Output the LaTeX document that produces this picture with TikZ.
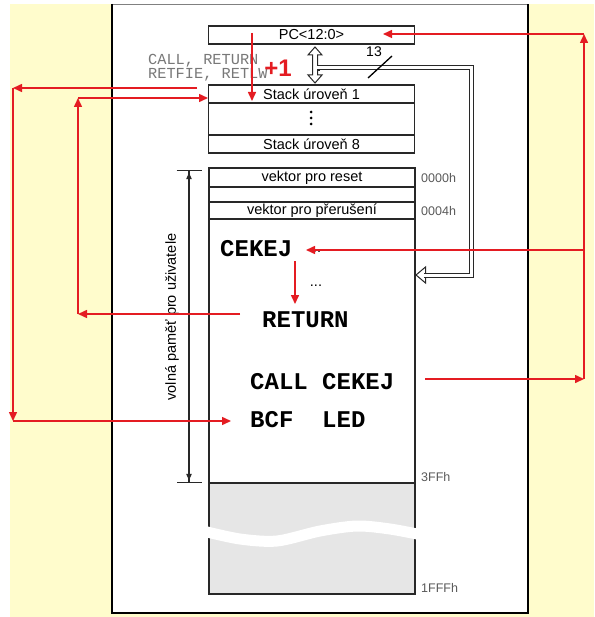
\documentclass[tikz,border=0pt]{standalone}
\usepackage{fontspec}
\setmainfont{Liberation Sans}
\newfontfamily\monof{Liberation Mono}
\usetikzlibrary{arrows.meta}
\definecolor{bgyellow}{RGB}{255,252,204}
\definecolor{myred}{RGB}{228,28,34}
\definecolor{extgray}{RGB}{230,230,230}
\definecolor{boxline}{RGB}{40,40,40}
\definecolor{labgray}{RGB}{90,90,90}
\definecolor{codegray}{RGB}{120,120,120}
\tikzset{
  membox/.style={draw=boxline, line width=1.3pt, fill=white, inner sep=0pt, font=\fontsize{14.5}{15}\selectfont},
  redarr/.style={draw=myred, line width=1.5pt, -{Triangle[length=9pt,width=8pt]}},
  codetxt/.style={font=\monof\bfseries\fontsize{24}{24}\selectfont, anchor=west, inner sep=0pt},
  graycode/.style={font=\monof\fontsize{15.3}{15}\selectfont, text=codegray, anchor=west, inner sep=0pt},
  addr/.style={font=\fontsize{12.5}{13}\selectfont, text=labgray, anchor=west, inner sep=0pt},
  hollow/.style={draw=boxline, line width=1pt, fill=white, line join=miter},
  dbl/.style={draw=boxline, line width=1pt, double=white, double distance=3pt}
}
\begin{document}
\begin{tikzpicture}[x=1pt,y=-1pt]
\useasboundingbox (0,0) rectangle (594,617);
\fill[white] (0,0) rectangle (594,617);
\fill[bgyellow] (10,4) rectangle (594,617);
\fill[white] (112,4) rectangle (528,613);
\draw[gray, line width=0.8pt] (112,4) -- (528,4);
\draw[black, line width=1.8pt] (112,4) -- (112,613) -- (528,613) -- (528,4);

% PC and stack
\node[membox, minimum width=206pt, minimum height=18pt] (pc) at (311.5,35) {PC<12:0>};
\node[membox, minimum width=206pt, minimum height=32pt] (stackmid) at (311.5,119) {};
\node[membox, minimum width=206pt, minimum height=18pt] (stack1) at (311.5,94) {Stack úroveň 1};
\node[membox, minimum width=206pt, minimum height=18pt] (stack8) at (311.5,144) {Stack úroveň 8};
\fill[black] (311,112) circle (1.5pt) (311,118) circle (1.5pt) (311,124) circle (1.5pt);

% memory map
\node[membox, minimum width=206pt, minimum height=264pt] (user) at (312,351) {};
\node[membox, minimum width=206pt, minimum height=111pt, fill=extgray] (ext) at (312,538.5) {};
\node[membox, minimum width=206pt, minimum height=19pt] (reset) at (312,177.5) {vektor pro reset};
\node[membox, minimum width=206pt, minimum height=15pt] (blank) at (312,194.5) {};
\node[membox, minimum width=206pt, minimum height=17pt] (irq) at (312,210.5) {vektor pro přerušení};
\draw[white, line width=11pt] plot[smooth] coordinates {(203,531) (240,539) (277,541) (320,531) (357,526) (390,529) (422,535)};

% addresses
\node[addr] (a0) at (421,178) {0000h};
\node[addr] (a4) at (421,211) {0004h};
\node[addr] (a3) at (421,477) {3FFh};
\node[addr] (a1) at (421,588) {1FFFh};

% dimension line
\coordinate (dtop) at (189,170);
\coordinate (dbot) at (189,483);
\draw[boxline, line width=1.2pt, {Bar[width=25pt]Latex[length=8pt,width=6pt]}-{Latex[length=8pt,width=6pt]Bar[width=25pt]}] (dtop) -- (dbot);
\node[rotate=90, font=\fontsize{14.5}{15}\selectfont] (vol) at (172,317) {volná paměť pro uživatele};

% code
\node[codetxt] (cekej) at (220,249) {CEKEJ};
\node[font=\fontsize{14.5}{15}\selectfont] (dots1) at (315,252) {...};
\node[font=\fontsize{14.5}{15}\selectfont] (dots2) at (316,286) {...};
\node[codetxt] (ret) at (262,320) {RETURN};
\node[codetxt] (call) at (250,382) {CALL CEKEJ};
\node[codetxt] (bcf) at (250,420) {BCF\ \ LED};
\node[graycode] (g1) at (148,61) {CALL, RETURN};
\node[graycode] (g2) at (148,75) {RETFIE, RETLW};
\node[font=\bfseries\fontsize{24}{24}\selectfont, text=myred] (plus) at (278,68) {+1};

% hollow bus connector
\draw[dbl] (316.5,68) -- (471,68) -- (471,275) -- (425,275);
\draw[hollow] (416,275) -- (425.5,267) -- (425.5,272.5) -- (425.5,277.5) -- (425.5,283) -- cycle;
\draw[dbl] (428,275) -- (424,275);
\draw[hollow] (315,47) -- (322,55) -- (317.5,55) -- (317.5,75) -- (322,75) -- (315,83) -- (308,75) -- (312.5,75) -- (312.5,55) -- (308,55) -- cycle;
\draw[white, line width=3pt] (317,68) -- (320,68);
\draw[boxline, line width=1pt] (317.5,65.5) -- (320,65.5) (317.5,70.5) -- (320,70.5);
\coordinate (s1) at (368,78);
\coordinate (s2) at (392,56);
\draw[black, line width=1.3pt] (s1) -- (s2);
\node[font=\fontsize{14}{14}\selectfont] (thirteen) at (374,52) {13};

% red connectors
\coordinate (pcsrc) at (252,33);
\coordinate (pcdst) at (252,101);
\draw[redarr] (pcsrc) -- (pcdst);

\coordinate (o1) at (197,88);
\coordinate (o2) at (13,88);
\coordinate (o3) at (13,421);
\coordinate (o4) at (231,421);
\draw[redarr] (o1) -- (o2);
\draw[redarr] (o2) -- (o3);
\draw[redarr] (o3) -- (o4);

\coordinate (i1) at (240,314);
\coordinate (i2) at (78,314);
\coordinate (i3) at (78,98);
\coordinate (i4) at (208,98);
\draw[redarr] (i1) -- (i2);
\draw[redarr] (i2) -- (i3);
\draw[redarr] (i3) -- (i4);

\coordinate (r1) at (425,379);
\coordinate (r2) at (584,379);
\coordinate (r3) at (584,34);
\coordinate (r4) at (383,34);
\coordinate (r5) at (584,250);
\coordinate (r6) at (306,250);
\draw[redarr] (r1) -- (r2);
\draw[redarr] (r2) -- (r3);
\draw[redarr] (r3) -- (r4);
\draw[redarr] (r5) -- (r6);

\coordinate (c1) at (295,261);
\coordinate (c2) at (295,304);
\draw[redarr] (c1) -- (c2);
\end{tikzpicture}
\end{document}
